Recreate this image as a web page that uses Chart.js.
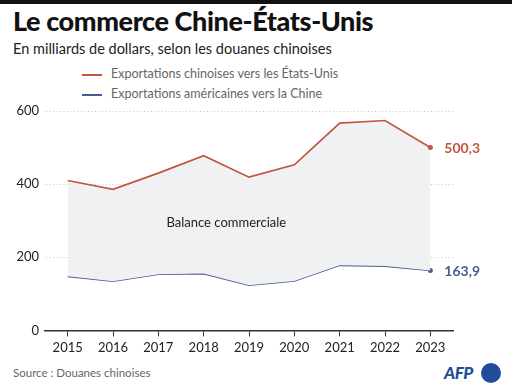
<!DOCTYPE html>
<html lang="fr">
<head>
<meta charset="UTF-8">
<title>Le commerce Chine-États-Unis</title>
<script src="https://cdn.jsdelivr.net/npm/chart.js"></script>
<style>
  body { margin: 0; width: 512px; height: 387px; background: #fff; font-family: Lato, "Noto Sans", sans-serif; position: relative; overflow: hidden; }
  .topbar { position: absolute; left: 0; top: 0; width: 512px; height: 4px; background: #111; }
  .title { position: absolute; left: 13px; top: 4px; font-size: 27px; font-weight: 900; color: #111; letter-spacing: -0.4px; }
  .sub { position: absolute; left: 13px; top: 40px; font-size: 14.5px; color: #222; }
  .leg { position: absolute; left: 82px; font-size: 12.5px; color: #666; }
  .leg span { display: inline-block; width: 20px; height: 2px; vertical-align: middle; margin-right: 9px; }
  .src { position: absolute; left: 13px; top: 366px; font-size: 11.5px; color: #666; }
  .afp { position: absolute; left: 444px; top: 362px; font-size: 17px; font-weight: 900; font-style: italic; color: #1f4d9c; letter-spacing: -0.5px; }
  .dot { position: absolute; left: 481px; top: 363px; width: 20px; height: 20px; border-radius: 50%; background: #1f4d9c; }
  canvas { position: absolute; left: 0; top: 0; }
</style>
</head>
<body>
<div class="topbar"></div>
<div class="title">Le commerce Chine-États-Unis</div>
<div class="sub">En milliards de dollars, selon les douanes chinoises</div>
<div class="leg" style="top:66px"><span style="background:#c0563e"></span>Exportations chinoises vers les États-Unis</div>
<div class="leg" style="top:86px"><span style="background:#4b5a92"></span>Exportations américaines vers la Chine</div>
<div class="src">Source : Douanes chinoises</div>
<div class="afp">AFP</div>
<div class="dot"></div>
<canvas id="c" width="512" height="387"></canvas>
<script>
// values (billions USD)
const years = ['2015', '2016', '2017', '2018', '2019', '2020', '2021', '2022', '2023'];
const chinaToUS = [410, 386, 430, 478, 419, 453, 567, 574, 500.3];
const usToChina = [148, 134.5, 153.5, 155.4, 123.5, 135, 178, 176, 163.9];
const yTicks = [0, 200, 400, 600];

const red = '#c0563e';
const blue = '#4b5a92';
const lastDot = arr => arr.map((v, i) => i === arr.length - 1 ? 2.5 : 0);

const endLabels = {
  id: 'endLabels',
  afterDatasetsDraw(chart) {
    const ctx = chart.ctx;
    ctx.save();
    ctx.font = 'bold 14px Lato, "Noto Sans", sans-serif';
    ctx.textBaseline = 'middle';
    chart.data.datasets.forEach((ds, i) => {
      const pts = chart.getDatasetMeta(i).data;
      const p = pts[pts.length - 1];
      const v = ds.data[ds.data.length - 1];
      ctx.fillStyle = ds.borderColor;
      ctx.fillText(v.toFixed(1).replace('.', ','), p.x + 14, p.y + 1);
    });
    // label inside the filled area
    const xs = chart.scales.x, ys = chart.scales.y;
    ctx.font = '13px Lato, "Noto Sans", sans-serif';
    ctx.fillStyle = '#222';
    ctx.textAlign = 'center';
    ctx.fillText('Balance commerciale', (xs.getPixelForValue(3) + xs.getPixelForValue(4)) / 2, ys.getPixelForValue(295));
    ctx.restore();
  }
};

new Chart(document.getElementById('c'), {
  type: 'line',
  data: {
    labels: years,
    datasets: [{
      data: chinaToUS,
      borderColor: red,
      backgroundColor: '#f0f1f3',
      borderWidth: 1.7,
      fill: '+1',
      pointRadius: lastDot(chinaToUS),
      pointBackgroundColor: red,
      pointBorderWidth: 0,
      tension: 0
    }, {
      data: usToChina,
      borderColor: blue,
      borderWidth: 1.7,
      fill: false,
      pointRadius: lastDot(usToChina),
      pointBackgroundColor: blue,
      pointBorderWidth: 0,
      tension: 0
    }]
  },
  options: {
    responsive: false,
    animation: false,
    layout: { padding: { left: 0, right: 59, top: 111, bottom: 27 } },
    plugins: { legend: { display: false }, tooltip: { enabled: false } },
    scales: {
      x: {
        offset: true,
        grid: { drawOnChartArea: false, drawTicks: true, tickLength: 6, color: '#333', lineWidth: 1 },
        border: { display: true, color: '#333', width: 1.5 },
        ticks: { color: '#222', font: { size: 13, family: 'Lato, "Noto Sans", sans-serif' }, padding: 4, maxRotation: 0 }
      },
      y: {
        min: 0, max: 600,
        afterBuildTicks: s => { s.ticks = yTicks.map(v => ({ value: v })); },
        grid: { color: c => c.tick.value === 0 ? 'rgba(0,0,0,0)' : '#c4c4c4', drawTicks: false, lineWidth: 1 },
        border: { display: true, color: 'rgba(0,0,0,0)', dash: [1, 2.5] },
        ticks: { color: '#222', font: { size: 13, family: 'Lato, "Noto Sans", sans-serif' }, padding: 6 },
        afterFit: s => { s.width = 45; }
      }
    }
  },
  plugins: [endLabels]
});
</script>
</body>
</html>
